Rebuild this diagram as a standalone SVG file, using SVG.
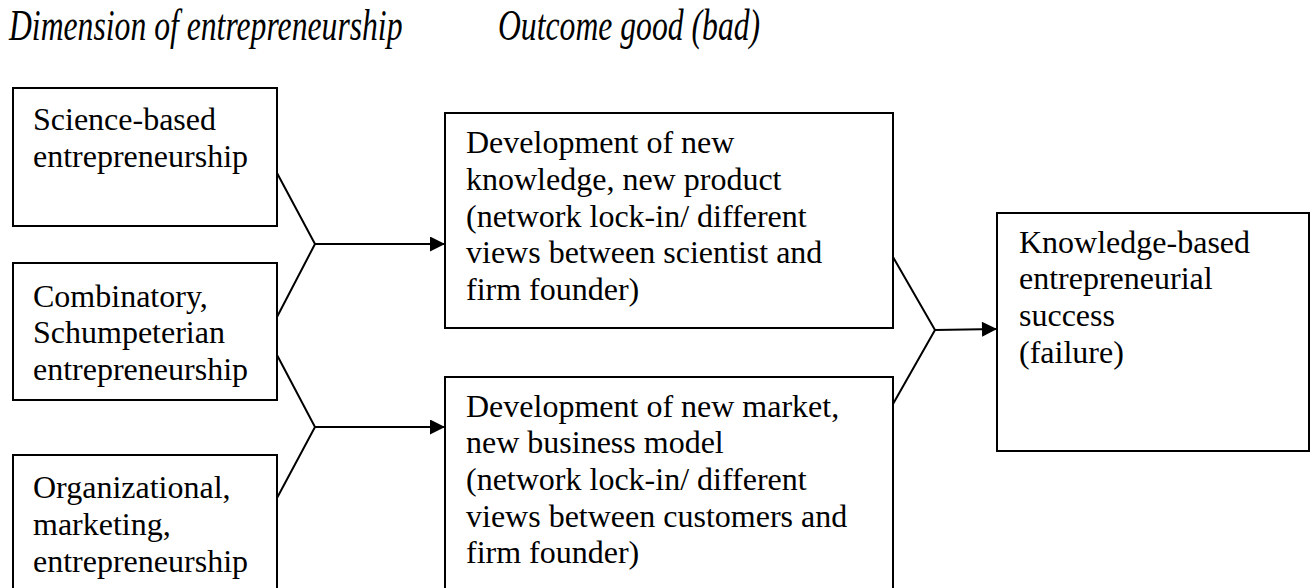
<svg xmlns="http://www.w3.org/2000/svg" width="1315" height="588" viewBox="0 0 1315 588">
<style>
.box{fill:#fff;stroke:#000;stroke-width:2}
.t{font-family:"Liberation Serif","Times New Roman",serif;font-size:32px;fill:#000}
.h{font-family:"Liberation Serif","Times New Roman",serif;font-size:44px;font-style:italic;fill:#000}
.c{fill:none;stroke:#000;stroke-width:2}
</style>
<defs>
<marker id="ah" viewBox="0 0 10 10" refX="10" refY="5" markerWidth="17" markerHeight="15" markerUnits="userSpaceOnUse" orient="auto">
<path d="M0,0 L10,5 L0,10 z" fill="#000"/>
</marker>
</defs>
<rect width="1315" height="588" fill="#fff"/>
<g id="headers">
<text class="h" transform="translate(9,40) scale(0.72,1)" x="0" y="0">Dimension of entrepreneurship</text>
<text class="h" transform="translate(498,40) scale(0.72,1)" x="0" y="0">Outcome good (bad)</text>
</g>
<g id="n1">
<rect class="box" x="13" y="88" width="264" height="138"/>
<text class="t" x="33" y="130">Science-based</text>
<text class="t" x="33" y="166.7">entrepreneurship</text>
</g>
<g id="n2">
<rect class="box" x="13" y="263" width="264" height="137"/>
<text class="t" x="33" y="306.7">Combinatory,</text>
<text class="t" x="33" y="343.3">Schumpeterian</text>
<text class="t" x="33" y="380">entrepreneurship</text>
</g>
<g id="n3">
<rect class="box" x="13" y="455" width="264" height="140"/>
<text class="t" x="33" y="498.3">Organizational,</text>
<text class="t" x="33" y="535">marketing,</text>
<text class="t" x="33" y="571.7">entrepreneurship</text>
</g>
<g id="n4">
<rect class="box" x="445" y="113" width="448" height="215"/>
<text class="t" x="466" y="153.3">Development of new</text>
<text class="t" x="466" y="190">knowledge, new product</text>
<text class="t" x="466" y="226.7">(network lock-in/ different</text>
<text class="t" x="466" y="263.3">views between scientist and</text>
<text class="t" x="466" y="300">firm founder)</text>
</g>
<g id="n5">
<rect class="box" x="445" y="377" width="448" height="220"/>
<text class="t" x="466" y="416.7">Development of new market,</text>
<text class="t" x="466" y="453.3">new business model</text>
<text class="t" x="466" y="490">(network lock-in/ different</text>
<text class="t" x="466" y="526.7">views between customers and</text>
<text class="t" x="466" y="563.3">firm founder)</text>
</g>
<g id="n6">
<rect class="box" x="997" y="213" width="312" height="238"/>
<text class="t" x="1019" y="252.5">Knowledge-based</text>
<text class="t" x="1019" y="289.2">entrepreneurial</text>
<text class="t" x="1019" y="325.8">success</text>
<text class="t" x="1019" y="362.5">(failure)</text>
</g>
<g id="connectors">
<polyline class="c" points="277,173 315,244 277,317"/>
<line class="c" x1="315" y1="244" x2="445" y2="244" marker-end="url(#ah)"/>
<polyline class="c" points="277,355 315,427 277,498"/>
<line class="c" x1="315" y1="427" x2="445" y2="427" marker-end="url(#ah)"/>
<polyline class="c" points="893,257 935,330 893,404"/>
<line class="c" x1="935" y1="330" x2="997" y2="329" marker-end="url(#ah)"/>
</g>
</svg>
